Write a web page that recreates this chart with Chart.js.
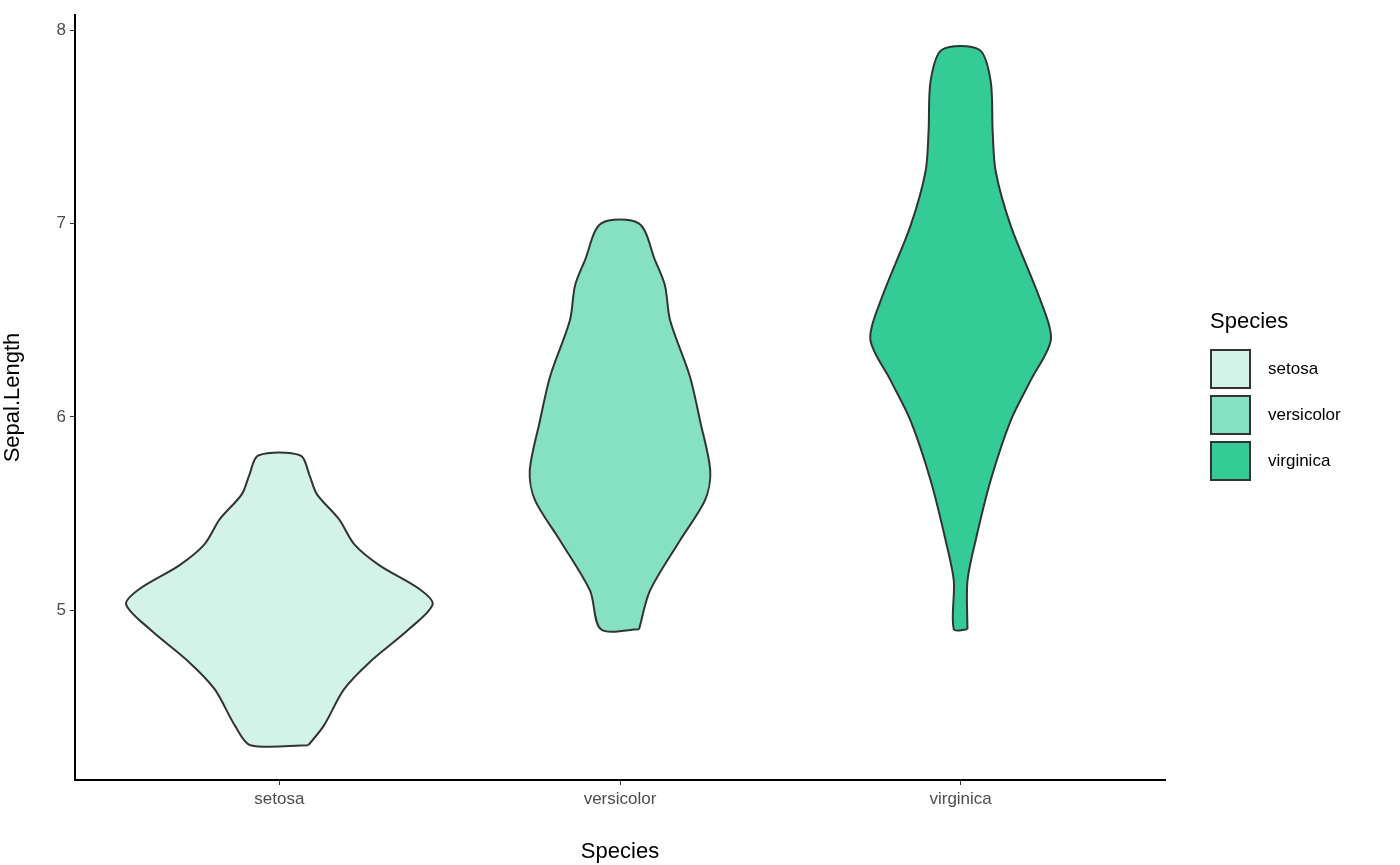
<!DOCTYPE html>
<html><head><meta charset="utf-8">
<script src="https://cdn.jsdelivr.net/npm/chart.js@4"></script>
<style>
body{margin:0;background:#fff;font-family:"Liberation Sans",Arial,sans-serif}
#wrap{position:relative;width:1400px;height:865px}
#lg{position:absolute;left:1210px;top:308px;color:#000}
#lg .t{font-size:22px;margin-bottom:12px}
#lg .r{display:flex;align-items:center;height:46px}
#lg .b{width:41px;height:40px;border:2px solid #333;box-sizing:border-box;margin-right:17px}
#lg span{font-size:17px}
</style></head><body>
<div id="wrap"><canvas id="c" width="1400" height="865"></canvas>
<div id="lg"><div class="t">Species</div></div></div>
<script>
const species = ['setosa', 'versicolor', 'virginica'];
const colors = ['#d4f3e8', '#86e0c2', '#34cb97'];
// y levels and half widths (in category units)
const setosaY = [4.3, 4.4, 4.59, 4.73, 4.9, 5.03, 5.11, 5.23, 5.34, 5.47, 5.6, 5.7, 5.8];
const setosaW = [0.085, 0.13, 0.19, 0.265, 0.38, 0.45, 0.41, 0.295, 0.22, 0.175, 0.11, 0.088, 0.062];
const versicolorY = [4.9, 5.1, 5.36, 5.57, 5.72, 5.98, 6.21, 6.5, 6.68, 6.81, 7.0];
const versicolorW = [0.056, 0.088, 0.176, 0.25, 0.265, 0.235, 0.205, 0.147, 0.132, 0.103, 0.056];
const virginicaY = [4.9, 5.15, 5.36, 5.67, 5.98, 6.19, 6.4, 6.6, 6.99, 7.27, 7.48, 7.74, 7.9];
const virginicaW = [0.02, 0.02, 0.044, 0.088, 0.147, 0.206, 0.265, 0.235, 0.147, 0.103, 0.094, 0.088, 0.055];

function violin(center, ys, ws) {
  let pts = [];
  for (let i = 0; i < ys.length; i++) pts.push({x: center + ws[i], y: ys[i]});
  for (let i = ys.length - 1; i >= 0; i--) pts.push({x: center - ws[i], y: ys[i]});
  pts.push(pts[0]);
  return pts;
}
const shapes = [[setosaY, setosaW], [versicolorY, versicolorW], [virginicaY, virginicaW]];

const lg = document.getElementById('lg');
species.forEach((s, i) => {
  lg.insertAdjacentHTML('beforeend', `<div class="r"><div class="b" style="background:${colors[i]}"></div><span>${s}</span></div>`);
});

const tickFont = {family: 'Liberation Sans', size: 17};
new Chart(document.getElementById('c'), {
  type: 'scatter',
  data: {
    datasets: shapes.map((s, i) => ({
      data: violin(i + 1, s[0], s[1]),
      showLine: true, fill: 'shape', tension: 0.3,
      backgroundColor: colors[i], borderColor: '#333', borderWidth: 2, pointRadius: 0
    }))
  },
  options: {
    responsive: false, animation: false,
    layout: {padding: {top: 15, right: 235, left: 0, bottom: 0}},
    plugins: {legend: {display: false}, tooltip: {enabled: false}},
    scales: {
      x: {
        type: 'linear', min: 0.4, max: 3.6,
        afterBuildTicks: a => { a.ticks = [1, 2, 3].map(v => ({value: v})); },
        afterFit: a => { a.height = 85; },
        ticks: {callback: v => species[v - 1], color: '#4d4d4d', font: tickFont, padding: 4},
        grid: {drawOnChartArea: false, tickLength: 5, color: '#333'},
        border: {color: '#000', width: 2},
        title: {display: true, text: 'Species', color: '#000', font: {family: 'Liberation Sans', size: 22}, padding: 0}
      },
      y: {
        min: 4.12, max: 8.08,
        afterBuildTicks: a => { a.ticks = [5, 6, 7, 8].map(v => ({value: v})); },
        afterFit: a => { a.width = 75; },
        ticks: {color: '#4d4d4d', font: tickFont, padding: 4},
        grid: {drawOnChartArea: false, tickLength: 5, color: '#333'},
        border: {color: '#000', width: 2},
        title: {display: true, text: 'Sepal.Length', color: '#000', font: {family: 'Liberation Sans', size: 22}, padding: 0}
      }
    }
  }
});
</script></body></html>
